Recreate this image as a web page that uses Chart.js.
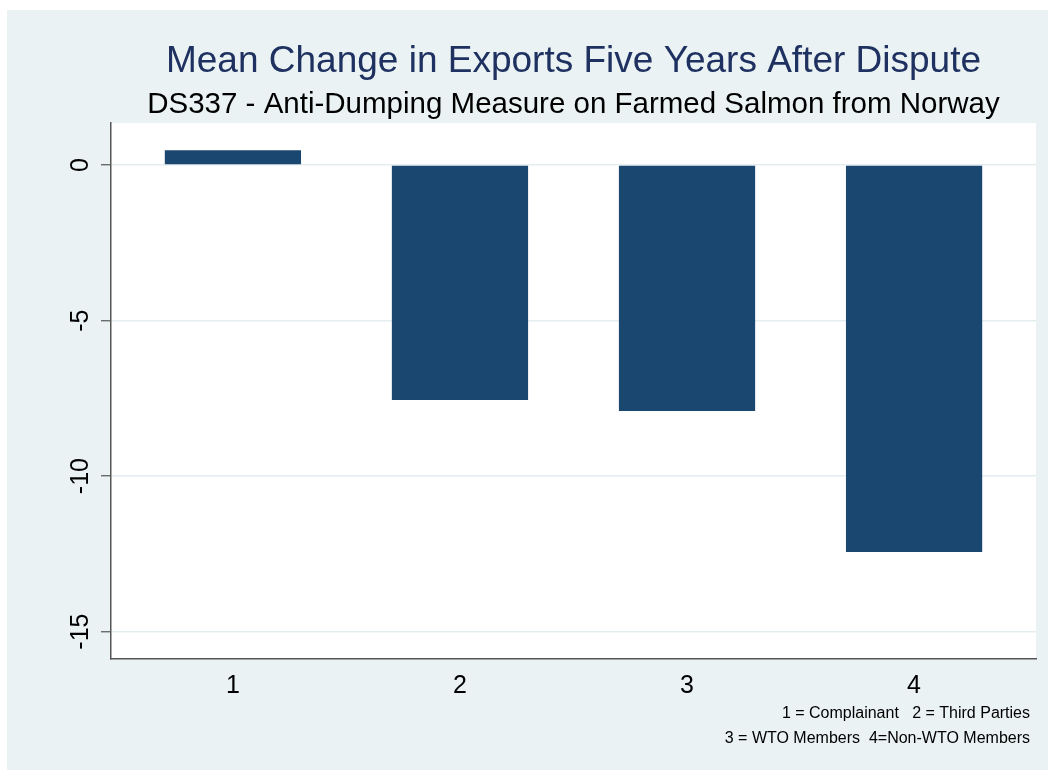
<!DOCTYPE html>
<html>
<head>
<meta charset="utf-8">
<script src="https://cdn.jsdelivr.net/npm/chart.js@4/dist/chart.umd.min.js"></script>
<style>
  html, body { margin: 0; padding: 0; background: #fff; }
  #wrap { width: 1048px; height: 771px; }
</style>
</head>
<body>
<div id="wrap"><canvas id="chart" width="1048" height="771"></canvas></div>
<script>
// Data
const categories = ['1', '2', '3', '4'];
const meanChange = [0.48, -7.55, -7.91, -12.44];
const yTicks = [0, -5, -10, -15];
const noteLines = ['1 = Complainant   2 = Third Parties', '3 = WTO Members  4=Non-WTO Members'];

const FONT = "'Liberation Sans', Arial, sans-serif";

// background panels + rotated y labels + note
const stataLook = {
    id: 'stataLook',
    beforeDraw(chart) {
        const ctx = chart.ctx, a = chart.chartArea;
        ctx.save();
        ctx.fillStyle = '#ffffff';
        ctx.fillRect(0, 0, chart.width, chart.height);
        ctx.fillStyle = '#eaf2f3';
        ctx.fillRect(7, 10, chart.width - 7, chart.height - 11);
        ctx.fillStyle = '#ffffff';
        ctx.fillRect(a.left, a.top, a.right - a.left, a.bottom - a.top);
        ctx.restore();
    },
    afterDraw(chart) {
        const ctx = chart.ctx, y = chart.scales.y, a = chart.chartArea;
        ctx.save();
        ctx.fillStyle = '#000';
        ctx.font = '25px ' + FONT;
        ctx.textAlign = 'center';
        ctx.textBaseline = 'middle';
        yTicks.forEach(v => {
            ctx.save();
            ctx.translate(a.left - 30, y.getPixelForValue(v));
            ctx.rotate(-Math.PI / 2);
            ctx.fillText(String(v), 0, 0);
            ctx.restore();
        });
        ctx.font = '16px ' + FONT;
        ctx.textAlign = 'right';
        noteLines.forEach((t, i) => ctx.fillText(t, a.right - 6, 714 + i * 25));
        ctx.restore();
    }
};

new Chart(document.getElementById('chart'), {
    type: 'bar',
    data: {
        datasets: [{
            data: meanChange.map((v, i) => ({ x: i + 1, y: v })),
            backgroundColor: '#1a476f',
            borderWidth: 0,
            barPercentage: 0.6,
            categoryPercentage: 1.0
        }]
    },
    options: {
        responsive: false,
        animation: false,
        layout: { padding: { top: 10, left: 0, right: 12, bottom: 0 } },
        plugins: {
            legend: { display: false },
            tooltip: { enabled: false },
            title: {
                display: true,
                fullSize: false,
                text: 'Mean Change in Exports Five Years After Dispute',
                color: '#1e3160',
                font: { family: FONT, size: 37, weight: 'normal' },
                padding: { top: 30, bottom: 0 }
            },
            subtitle: {
                display: true,
                fullSize: false,
                text: 'DS337 - Anti-Dumping Measure on Farmed Salmon from Norway',
                color: '#000',
                font: { family: FONT, size: 29.5, weight: 'normal' },
                padding: { top: 3, bottom: 0.3 }
            }
        },
        scales: {
            x: {
                type: 'linear',
                offset: false,
                min: 0.463,
                max: 4.537,
                afterBuildTicks: s => { s.ticks = categories.map((c, i) => ({ value: i + 1 })); },
                afterFit: s => { s.height = 112; },
                ticks: {
                    callback: v => categories[v - 1],
                    color: '#000',
                    font: { family: FONT, size: 25 },
                    padding: 12,
                    maxRotation: 0
                },
                grid: { display: false, drawTicks: false },
                border: { display: true, color: '#555', width: 1.5 }
            },
            y: {
                min: -15.88,
                max: 1.35,
                afterBuildTicks: s => { s.ticks = yTicks.map(v => ({ value: v })); },
                afterFit: s => { s.width = 111; },
                ticks: { display: false },
                grid: {
                    color: '#e4edf0',
                    lineWidth: 1.5,
                    tickColor: '#555',
                    tickLength: 10,
                    tickWidth: 1.2
                },
                border: { display: true, color: '#555', width: 1.5 }
            }
        }
    },
    plugins: [stataLook]
});
</script>
</body>
</html>
